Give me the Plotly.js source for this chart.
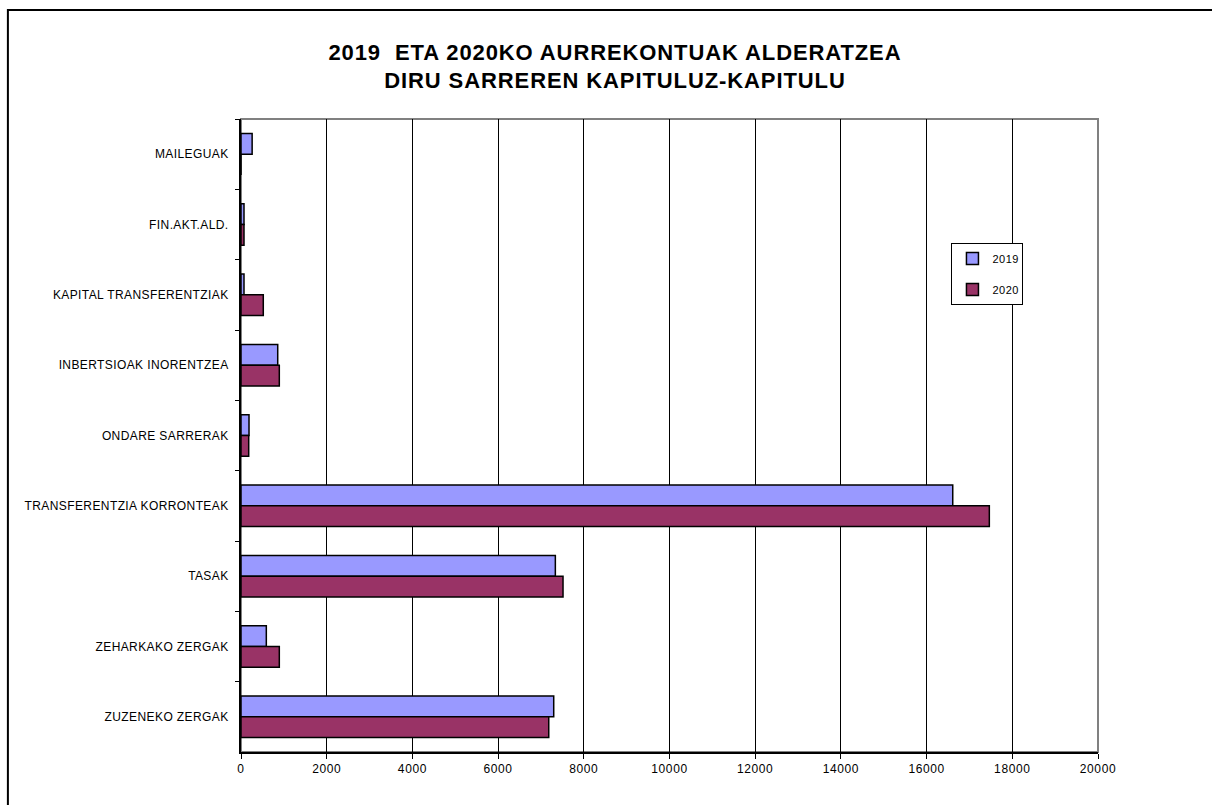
<!DOCTYPE html>
<html>
<head>
<meta charset="utf-8">
<script src="https://cdn.plot.ly/plotly-3.0.1.min.js"></script>
<style>
html,body{margin:0;padding:0;background:#fff;}
#chart{width:1212px;height:805px;}
#chart .gtitle{letter-spacing:0.9px;}
#chart .ytick text{letter-spacing:0.4px;}
#chart .xtick text{letter-spacing:0.6px;}
#chart .legendtext{letter-spacing:0.5px;}
</style>
</head>
<body>
<div id="chart"></div>
<script>
// Categories listed top to bottom
const categories = [
  "MAILEGUAK",
  "FIN.AKT.ALD.",
  "KAPITAL TRANSFERENTZIAK",
  "INBERTSIOAK INORENTZEA",
  "ONDARE SARRERAK",
  "TRANSFERENTZIA KORRONTEAK",
  "TASAK",
  "ZEHARKAKO ZERGAK",
  "ZUZENEKO ZERGAK"
];
const values2019 = [260, 70, 70, 857, 187, 16610, 7336, 591, 7298];
const values2020 = [0, 70, 520, 894, 180, 17464, 7515, 894, 7182];
const xTicks = [0, 2000, 4000, 6000, 8000, 10000, 12000, 14000, 16000, 18000, 20000];

const font = "Liberation Sans, Arial, sans-serif";

const traces = [
  {type: "bar", orientation: "h", name: "2019", legendgroup: "a",
   y: categories, x: values2019,
   marker: {color: "#9999FF", line: {color: "#000000", width: 1.5}}},
  {type: "bar", orientation: "h", name: "2020", legendgroup: "b",
   y: categories, x: values2020,
   marker: {color: "#993366", line: {color: "#000000", width: 1.5}}}
];

const layout = {
  width: 1212, height: 805,
  paper_bgcolor: "#ffffff", plot_bgcolor: "#ffffff",
  margin: {l: 241, r: 114, t: 119, b: 53, pad: 0},
  barmode: "group", bargap: 0.41, bargroupgap: 0,
  font: {family: font, color: "#000000", size: 11},
  title: {
    text: "<b>2019  ETA 2020KO AURREKONTUAK ALDERATZEA<br>DIRU SARREREN KAPITULUZ-KAPITULU</b>",
    font: {family: font, size: 22, color: "#000000"},
    x: 0.5074, xanchor: "center", xref: "container",
    y: 0.926, yanchor: "top", yref: "container"
  },
  xaxis: {
    range: [0, 20000], tickvals: xTicks, ticktext: xTicks.map(String),
    showgrid: true, gridcolor: "#000000", gridwidth: 1,
    zeroline: false, showline: true, linecolor: "#000000", linewidth: 2,
    ticks: "outside", ticklen: 5, tickcolor: "#000000", tickwidth: 1,
    tickfont: {family: font, size: 12}, fixedrange: true
  },
  yaxis: {
    type: "category", autorange: "reversed",
    categoryorder: "array", categoryarray: categories,
    showgrid: false, zeroline: false, showline: true, linecolor: "#000000", linewidth: 2,
    ticks: "outside", tickson: "boundaries", ticklen: 4, tickcolor: "#000000",
    ticklabelstandoff: 8,
    tickfont: {family: font, size: 12}, fixedrange: true
  },
  showlegend: true,
  legend: {
    x: 0.829, y: 0.804, xanchor: "left", yanchor: "top",
    bgcolor: "#ffffff", bordercolor: "#000000", borderwidth: 1,
    font: {family: font, size: 11}, traceorder: "grouped", tracegroupgap: 12,
    itemwidth: 30
  },
  shapes: [
    {type: "rect", xref: "paper", yref: "paper", x0: 0, x1: 1, y0: 0, y1: 1,
     line: {color: "#808080", width: 2}, layer: "below"},
    {type: "rect", xref: "paper", yref: "paper", x0: -0.272, x1: 1.3, y0: -0.3, y1: 1.172,
     line: {color: "#000000", width: 2}, layer: "below"}
  ]
};

Plotly.newPlot("chart", traces, layout, {displayModeBar: false, staticPlot: true});
</script>
</body>
</html>
